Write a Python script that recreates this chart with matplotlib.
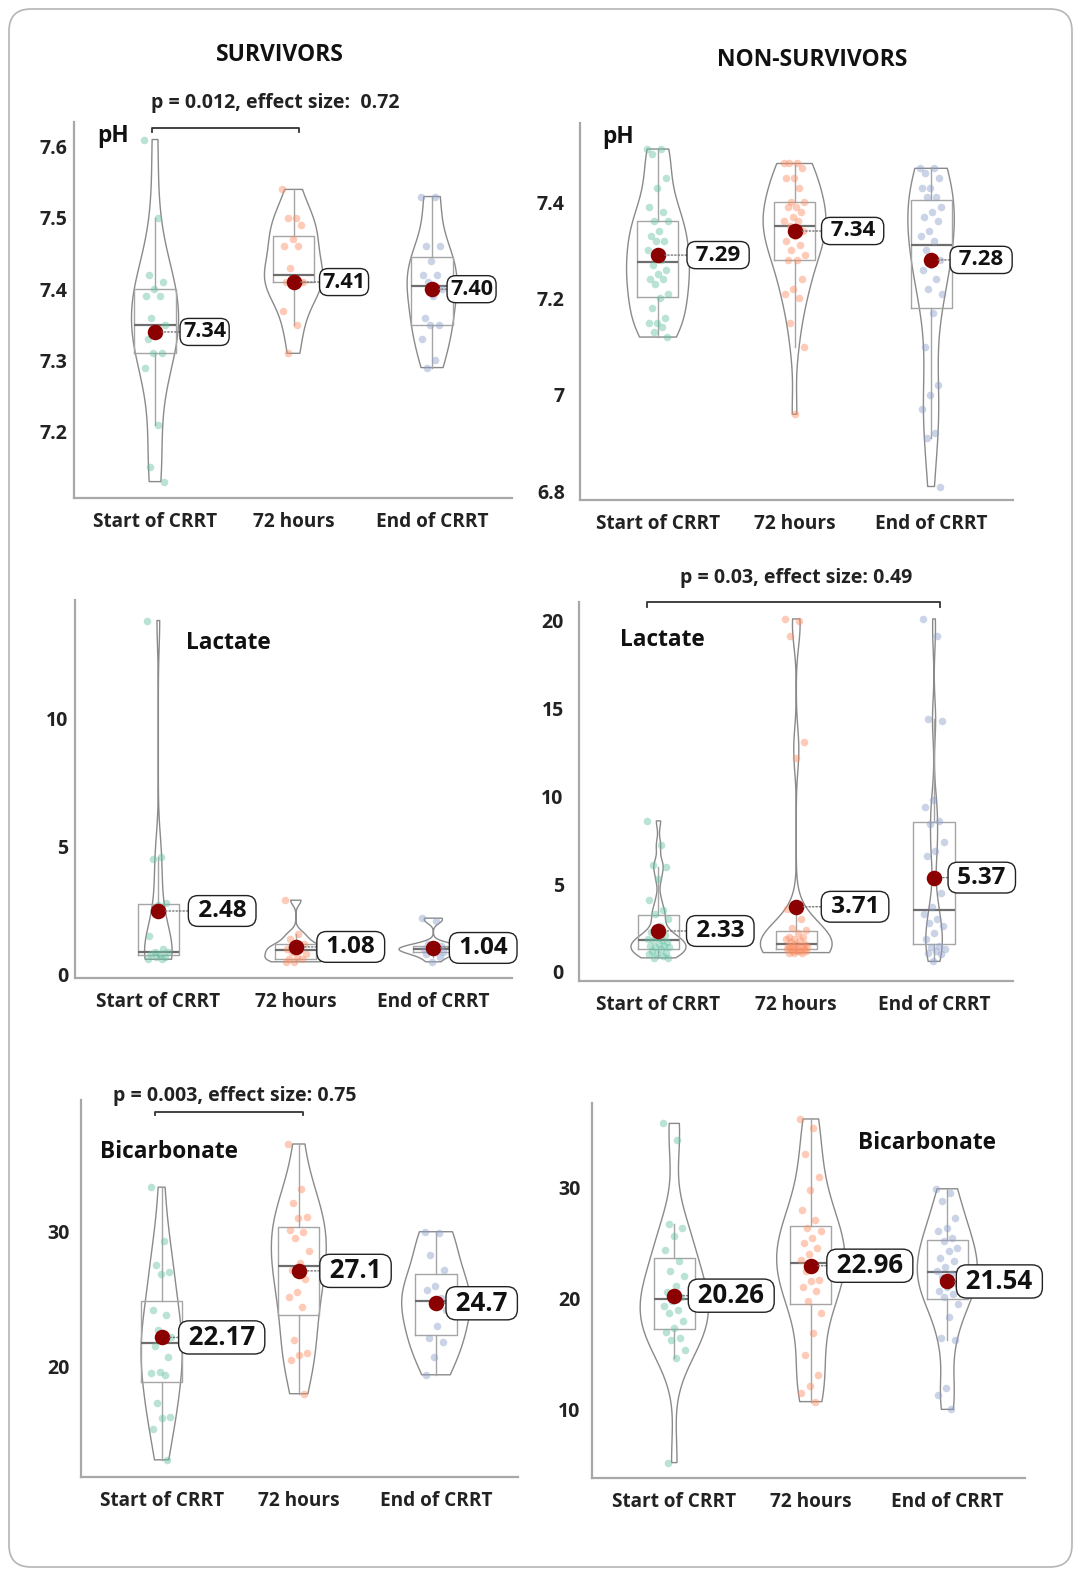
import numpy as np
import matplotlib
matplotlib.use('Agg')
import matplotlib.pyplot as plt
from matplotlib.patches import FancyBboxPatch
import matplotlib.transforms as mtransforms

plt.rcParams['font.family'] = ['Open Sans', 'DejaVu Sans']

W, H = 1081, 1576

categories = ['Start of CRRT', '72 hours', 'End of CRRT']
colors = ['#66c2a5', '#fc8d62', '#8da0cb']

# ---------------- SURVIVORS ----------------
surv_ph_start = [7.61, 7.50, 7.42, 7.41, 7.40, 7.39, 7.39, 7.36, 7.35, 7.34, 7.33, 7.31, 7.31, 7.29, 7.21, 7.15, 7.13]
surv_ph_72h = [7.54, 7.50, 7.50, 7.49, 7.47, 7.46, 7.46, 7.43, 7.41, 7.41, 7.41, 7.41, 7.41, 7.37, 7.35, 7.31]
surv_ph_end = [7.53, 7.53, 7.46, 7.46, 7.44, 7.42, 7.42, 7.41, 7.40, 7.39, 7.36, 7.35, 7.35, 7.33, 7.30, 7.29]
surv_ph_means = ['7.34', '7.41', '7.40']

surv_lac_start = [13.8, 4.6, 4.5, 2.8, 2.7, 1.5, 1.0, 0.9, 0.9, 0.8, 0.8, 0.7, 0.7, 0.6, 0.6]
surv_lac_72h = [2.9, 1.6, 1.4, 1.2, 1.1, 1.0, 1.0, 0.9, 0.8, 0.7, 0.6, 0.6, 0.5, 0.5]
surv_lac_end = [2.2, 2.1, 1.2, 1.1, 1.1, 1.0, 1.0, 1.0, 0.9, 0.9, 0.8, 0.7, 0.5]
surv_lac_means = ['2.48', '1.08', '1.04']

surv_bic_start = [33.3, 29.3, 27.5, 27.0, 26.9, 24.2, 23.8, 22.7, 22.2, 22.0, 21.5, 20.7, 19.6, 19.5, 19.4, 17.3, 16.3, 16.2, 15.4, 13.1]
surv_bic_72h = [36.5, 33.2, 32.1, 31.1, 31.0, 30.1, 30.0, 29.5, 28.6, 27.7, 27.2, 26.5, 25.5, 25.2, 24.4, 22.0, 21.0, 20.9, 20.5, 18.0]
surv_bic_end = [30.0, 29.9, 28.3, 27.2, 26.0, 25.7, 25.1, 24.6, 24.2, 23.0, 22.1, 21.8, 20.7, 19.4]
surv_bic_means = ['22.17', '27.1', '24.7']

# ---------------- NON-SURVIVORS ----------------
non_ph_start = [7.51, 7.51, 7.50, 7.45, 7.43, 7.39, 7.38, 7.36, 7.36, 7.34, 7.33, 7.32, 7.32, 7.30, 7.28,
                7.27, 7.26, 7.25, 7.24, 7.24, 7.23, 7.21, 7.20, 7.18, 7.16, 7.15, 7.15, 7.14, 7.13, 7.12]
non_ph_72h = [7.48, 7.48, 7.48, 7.47, 7.45, 7.45, 7.43, 7.40, 7.40, 7.39, 7.39, 7.38, 7.37, 7.36, 7.36, 7.35,
              7.34, 7.33, 7.32, 7.31, 7.30, 7.29, 7.28, 7.28, 7.24, 7.22, 7.21, 7.20, 7.15, 7.10, 6.96]
non_ph_end = [7.47, 7.47, 7.46, 7.45, 7.43, 7.43, 7.41, 7.41, 7.39, 7.38, 7.37, 7.36, 7.34, 7.33, 7.32, 7.30,
              7.28, 7.27, 7.26, 7.24, 7.22, 7.21, 7.17, 7.10, 7.02, 7.00, 6.97, 6.92, 6.91, 6.81]
non_ph_means = ['7.29', '7.34', '7.28']

non_lac_start = [8.6, 7.2, 6.1, 6.0, 5.3, 4.1, 3.5, 3.3, 3.0, 2.6, 2.3, 2.1, 2.0, 1.9, 1.8, 1.8, 1.7, 1.6,
                 1.5, 1.5, 1.4, 1.4, 1.3, 1.2, 1.1, 1.0, 1.0, 0.9, 0.8, 0.8]
non_lac_72h = [20.1, 20.0, 19.1, 13.1, 12.2, 3.6, 3.0, 2.5, 2.4, 2.2, 2.0, 2.0, 1.9, 1.9, 1.8, 1.7, 1.6,
               1.6, 1.5, 1.5, 1.5, 1.4, 1.4, 1.4, 1.3, 1.3, 1.3, 1.2, 1.2, 1.2, 1.2, 1.1, 1.1, 1.1]
non_lac_end = [20.1, 19.1, 14.4, 14.3, 9.8, 9.4, 8.6, 8.4, 7.4, 6.9, 6.6, 4.5, 3.7, 3.3, 3.0, 2.8, 2.6,
               2.2, 1.9, 1.5, 1.4, 1.3, 1.2, 1.1, 1.0, 0.6]
non_lac_means = ['2.33', '3.71', '5.37']

non_bic_start = [35.8, 34.3, 26.7, 26.4, 25.6, 24.4, 23.4, 22.5, 22.0, 21.1, 20.6, 20.1, 19.8, 19.3, 19.0,
                 18.7, 18.0, 17.3, 17.0, 16.4, 16.3, 15.4, 14.6, 5.2]
non_bic_72h = [36.2, 35.4, 33.0, 31.0, 29.8, 28.0, 27.1, 26.4, 26.1, 25.5, 25.0, 24.6, 24.0, 23.5, 23.0,
               22.5, 21.7, 21.6, 21.0, 20.7, 19.8, 18.7, 16.9, 14.9, 13.1, 12.1, 11.5, 10.7]
non_bic_end = [29.9, 29.5, 28.8, 27.3, 26.4, 26.1, 25.5, 25.2, 24.6, 24.3, 23.7, 23.4, 22.8, 22.5, 22.2,
               21.9, 21.4, 21.0, 20.7, 20.4, 20.1, 19.5, 18.3, 16.4, 16.3, 11.9, 11.3, 10.0]
non_bic_means = ['20.26', '22.96', '21.54']

# ---------------- layout (pixels) ----------------
panels = [
    dict(groups=[surv_ph_start, surv_ph_72h, surv_ph_end], means=surv_ph_means,
         box=(74, 121.7, 511.7, 498), xlim=(-0.585, 2.575), ylim=(7.107, 7.635),
         yticks=[7.2, 7.3, 7.4, 7.5, 7.6], yticklabels=['7.2', '7.3', '7.4', '7.5', '7.6'],
         ypad=5, name='pH', name_pos=(-0.42, 0.963), bw=0.5, vw=[0.34, 0.42, 0.36],
         loffs=[25, 26, 15], lfs=15.5, lpad=0.14, spaced=False,
         bracket=dict(x0=-0.02, x1=1.04, y=0.984, d=0.012, tx=-0.03, ty=1.05,
                      text='p = 0.012, effect size:  0.72', ha='left')),
    dict(groups=[non_ph_start, non_ph_72h, non_ph_end], means=non_ph_means,
         box=(580, 123, 1013, 500), xlim=(-0.571, 2.60), ylim=(6.782, 7.564),
         yticks=[6.8, 7.0, 7.2, 7.4], yticklabels=['6.8', '7', '7.2', '7.4'],
         ypad=11, name='pH', name_pos=(-0.41, 0.964), bw=0.45, vw=[0.46, 0.46, 0.34],
         loffs=[29, 27, 19], lfs=16, lpad=0.14, spaced=True, bracket=None),
    dict(groups=[surv_lac_start, surv_lac_72h, surv_lac_end], means=surv_lac_means,
         box=(75, 600, 512, 977.7), xlim=(-0.606, 2.572), ylim=(-0.12, 14.6),
         yticks=[0, 5, 10], yticklabels=['0', '5', '10'],
         ypad=5, name='Lactate', name_pos=(0.2, 0.885), bw=0.3, vw=[0.2, 0.45, 0.5],
         loffs=[30, 21, 16], lfs=17.5, lpad=0.14, spaced=True, bracket=None),
    dict(groups=[non_lac_start, non_lac_72h, non_lac_end], means=non_lac_means,
         box=(579, 601.7, 1013, 980.7), xlim=(-0.577, 2.573), ylim=(-0.5, 21.08),
         yticks=[0, 5, 10, 15, 20], yticklabels=['0', '5', '10', '15', '20'],
         ypad=11, name='Lactate', name_pos=(-0.28, 0.899), bw=0.2, vw=[0.4, 0.52, 0.12],
         loffs=[28, 25, 14], lfs=17.5, lpad=0.14, spaced=True,
         bracket=dict(x0=-0.08, x1=2.04, y=1.0, d=0.013, tx=1.0, ty=1.062,
                      text='p = 0.03, effect size: 0.49', ha='center')),
    dict(groups=[surv_bic_start, surv_bic_72h, surv_bic_end], means=surv_bic_means,
         box=(80.7, 1100, 518, 1476.7), xlim=(-0.59, 2.598), ylim=(11.85, 39.76),
         yticks=[20, 30], yticklabels=['20', '30'],
         ypad=8, name='Bicarbonate', name_pos=(-0.45, 0.863), bw=0.55, vw=[0.3, 0.4, 0.5],
         loffs=[17, 21, 10], lfs=18.5, lpad=0.12, spaced=True,
         bracket=dict(x0=-0.05, x1=1.03, y=0.969, d=0.01, tx=0.53, ty=1.01,
                      text='p = 0.003, effect size: 0.75', ha='center')),
    dict(groups=[non_bic_start, non_bic_72h, non_bic_end], means=non_bic_means,
         box=(591.7, 1103, 1025, 1478), xlim=(-0.605, 2.569), ylim=(3.81, 37.64),
         yticks=[10, 20, 30], yticklabels=['10', '20', '30'],
         ypad=8, name='Bicarbonate', name_pos=(1.345, 0.8925), bw=0.45, vw=[0.5, 0.5, 0.44],
         loffs=[14, 16, 9], lfs=18.5, lpad=0.12, spaced=True, bracket=None),
]

fig = plt.figure(figsize=(W / 100, H / 100), dpi=100)

# background + rounded frame
bg = fig.add_axes([0, 0, 1, 1], zorder=-10)
bg.set_xlim(0, W)
bg.set_ylim(H, 0)
bg.axis('off')
bg.add_patch(FancyBboxPatch((9, 9), W - 18, H - 18, boxstyle='round,pad=0,rounding_size=22',
                            fc='white', ec='#b5b5b5', lw=1.2))
bg.text(280, 55, 'SURVIVORS', ha='center', va='center', fontsize=16.5, fontweight='bold', color='#111')
bg.text(812, 60, 'NON-SURVIVORS', ha='center', va='center', fontsize=16.5, fontweight='bold', color='#111')


def rect(l, t, r, b):
    return [l / W, 1 - b / H, (r - l) / W, (b - t) / H]


spine_c = '#a8a8a8'
for p in panels:
    ax = fig.add_axes(rect(*p['box']))
    ax.patch.set_alpha(0)
    groups = p['groups']
    pos = [0, 1, 2]
    vp = ax.violinplot(groups, positions=pos, widths=p['vw'], showextrema=False,
                       bw_method=p['bw'])
    for b in vp['bodies']:
        b.set_facecolor('none')
        b.set_edgecolor('#8a8a8a')
        b.set_linewidth(1.0)
        b.set_alpha(1)
    ax.boxplot(groups, positions=pos, widths=0.3, showfliers=False, showcaps=False,
               manage_ticks=False,
               boxprops=dict(color='#a5a5a5', lw=1.0),
               whiskerprops=dict(color='#a5a5a5', lw=1.0),
               medianprops=dict(color='#6e6e6e', lw=1.6))
    for i, (g, c) in enumerate(zip(groups, colors)):
        n = len(g)
        jit = ((np.arange(n) * 0.6180339) % 1 - 0.5) * 0.16
        ax.scatter(i + jit, g, s=30, color=c, alpha=0.45, lw=0, zorder=3)
    mvals = [float(m) for m in p['means']]
    ax.scatter(pos, mvals, s=125, color='#8b0000', zorder=6, lw=0)
    pad = p['lpad']
    for i, (mv, ml) in enumerate(zip(mvals, p['means'])):
        off_px = p['loffs'][i] + pad * p['lfs'] * 100 / 72
        txt = ' %s ' % ml if p['spaced'] else ml
        ax.annotate(txt, xy=(i, mv), xytext=(off_px * 0.72, 0), textcoords='offset points',
                    ha='left', va='center', fontsize=p['lfs'], fontweight='bold', color='#111',
                    bbox=dict(boxstyle='round,pad=%.2f,rounding_size=0.4' % pad, fc='white',
                              ec='#222', lw=1.0),
                    arrowprops=dict(arrowstyle='-', ls=(0, (1, 1.5)), color='#777', lw=1.0,
                                    shrinkA=0, shrinkB=5),
                    zorder=7)
    ax.set_xlim(*p['xlim'])
    ax.set_ylim(*p['ylim'])
    ax.set_xticks(pos)
    ax.set_xticklabels(categories, fontsize=13.7, fontweight='bold', color='#222')
    ax.set_yticks(p['yticks'])
    ax.set_yticklabels(p['yticklabels'], fontsize=14, fontweight='bold', color='#222')
    ax.tick_params(axis='x', length=0, pad=10)
    ax.tick_params(axis='y', length=0, pad=p['ypad'])
    for s in ['top', 'right']:
        ax.spines[s].set_visible(False)
    for s in ['left', 'bottom']:
        ax.spines[s].set_color(spine_c)
        ax.spines[s].set_linewidth(1.6)
    trans = mtransforms.blended_transform_factory(ax.transData, ax.transAxes)
    ax.text(p['name_pos'][0], p['name_pos'][1], p['name'], transform=trans, ha='left',
            va='center', fontsize=16.3, fontweight='bold', color='#111')
    br = p['bracket']
    if br:
        ax.plot([br['x0'], br['x0'], br['x1'], br['x1']],
                [br['y'] - br['d'], br['y'], br['y'], br['y'] - br['d']],
                transform=trans, clip_on=False, color='#333', lw=1.3)
        ax.text(br['tx'], br['ty'], br['text'], transform=trans, ha=br['ha'], va='center',
                fontsize=14, fontweight='bold', color='#222')

fig.savefig('out.png', dpi=100)
